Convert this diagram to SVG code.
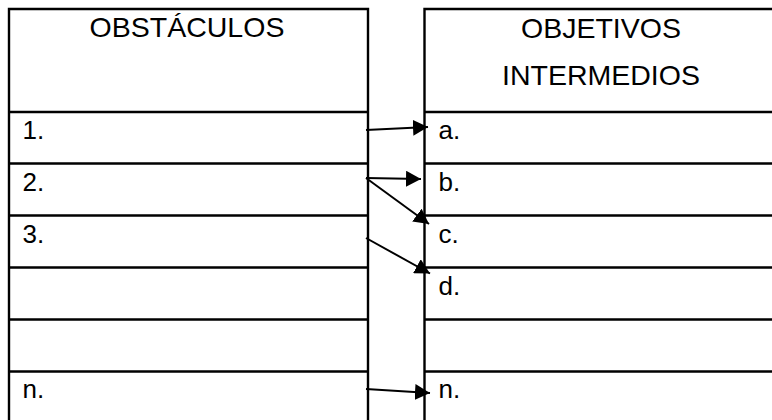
<svg xmlns="http://www.w3.org/2000/svg" width="772" height="420" viewBox="0 0 772 420">
<style>
.tl{stroke:#000;stroke-width:2.4;fill:none}
.hd{font-family:"Liberation Sans",Arial,sans-serif;font-size:28.5px;fill:#000;text-anchor:middle}
.lb{font-family:"Liberation Sans",Arial,sans-serif;font-size:26px;fill:#000}
.ar{stroke:#000;stroke-width:2;fill:none;marker-end:url(#ah)}
</style>
<defs>
<marker id="ah" viewBox="0 0 15 16" refX="15" refY="8" markerWidth="15" markerHeight="16" markerUnits="userSpaceOnUse" orient="auto">
<path d="M0,0 L15,8 L0,16 z" fill="#000"/>
</marker>
</defs>
<rect width="772" height="420" fill="#fff"/>
<g id="obstaculos">
<path class="tl" d="M9,420 V9 H368 V420 M9,112 H368 M9,163.5 H368 M9,215.5 H368 M9,267.5 H368 M9,319.5 H368 M9,371.5 H368"/>
<text class="hd" x="187" y="37">OBSTÁCULOS</text>
<text class="lb" x="22.5" y="139">1.</text>
<text class="lb" x="22.5" y="190.5">2.</text>
<text class="lb" x="22.5" y="242.5">3.</text>
<text class="lb" x="22.5" y="398">n.</text>
</g>
<g id="objetivos">
<path class="tl" d="M424.5,420 V9 H772 M424.5,112 H772 M424.5,163.5 H772 M424.5,215.5 H772 M424.5,267.5 H772 M424.5,319.5 H772 M424.5,371.5 H772"/>
<text class="hd" x="601" y="38">OBJETIVOS</text>
<text class="hd" x="601" y="85">INTERMEDIOS</text>
<text class="lb" x="438.5" y="139">a.</text>
<text class="lb" x="438.5" y="190.5">b.</text>
<text class="lb" x="438.5" y="242.5">c.</text>
<text class="lb" x="438.5" y="294.5">d.</text>
<text class="lb" x="438.5" y="398">n.</text>
</g>
<g id="connectors">
<line class="ar" x1="366" y1="130" x2="428" y2="127"/>
<line class="ar" x1="366" y1="178" x2="421" y2="179"/>
<line class="ar" x1="366" y1="178" x2="429" y2="224"/>
<line class="ar" x1="366" y1="238" x2="430" y2="273.5"/>
<line class="ar" x1="366" y1="389" x2="430" y2="393"/>
</g>
</svg>
